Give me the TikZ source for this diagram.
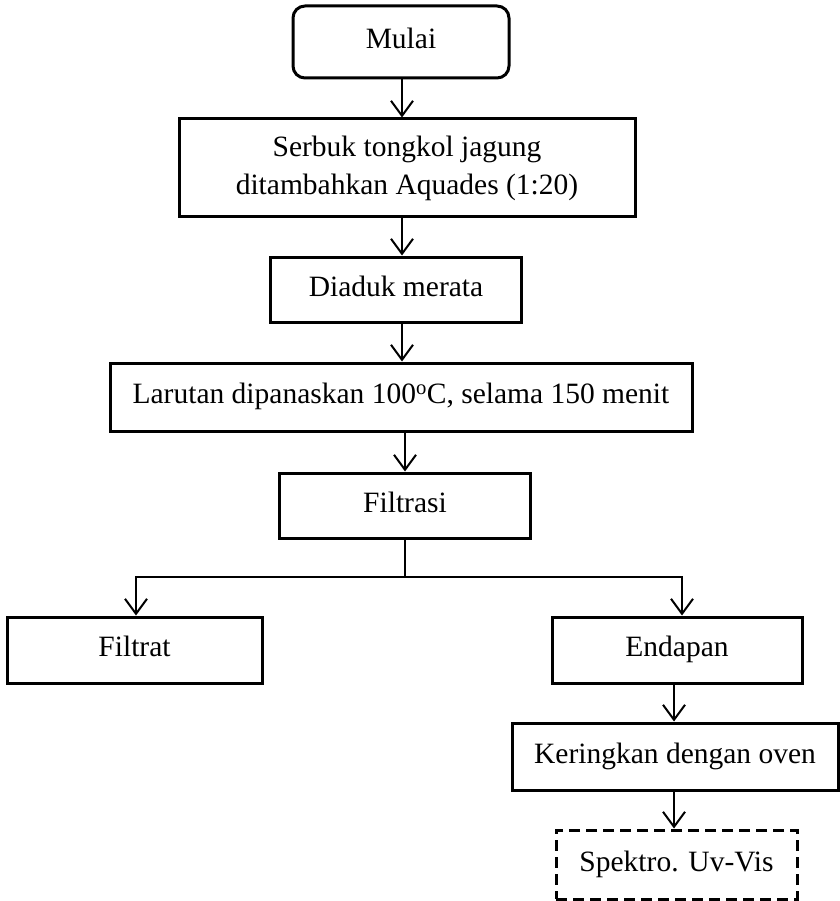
\documentclass[tikz,border=0pt]{standalone}
\usepackage{fontspec}
\setmainfont{Liberation Serif}
\usetikzlibrary{arrows.meta}
\begin{document}
\begin{tikzpicture}[x=1pt,y=-1pt,
  box/.style={draw, line width=3pt, inner sep=0pt, align=center, font=\fontsize{29.5}{38}\selectfont},
  one/.style={text height=20pt, text depth=6.5pt},
  rbox/.style={box, one, rounded corners=12pt},
  dbox/.style={box, one, dash pattern=on 11pt off 6pt},
  conn/.style={line width=2pt},
  arr/.style={conn, -{Straight Barb[length=15pt,width=22pt,line width=2pt]}}]
\useasboundingbox (0,0) rectangle (839,901);
\node[rbox, minimum width=216pt, minimum height=72pt] (mulai) at (401,42) {Mulai};
\node[box, minimum width=456pt, minimum height=98pt] (serbuk) at (407,168) {Serbuk tongkol jagung\\ditambahkan Aquades (1:20)};
\node[box, one, minimum width=251pt, minimum height=65pt] (aduk) at (396,289.5) {Diaduk merata};
\node[box, one, minimum width=582pt, minimum height=68pt] (panas) at (401,397) {Larutan dipanaskan 100\textsuperscript{o}C, selama 150 menit};
\node[box, one, minimum width=251pt, minimum height=65pt] (filtrasi) at (405,505.5) {Filtrasi};
\node[box, one, minimum width=255pt, minimum height=66pt] (filtrat) at (134.5,650) {Filtrat};
\node[box, one, minimum width=250pt, minimum height=66pt] (endapan) at (677,650) {Endapan};
\node[box, one, minimum width=326pt, minimum height=67pt] (kering) at (675,756.5) {Keringkan dengan oven};
\node[dbox, minimum width=241pt, minimum height=69pt] (spektro) at (676.5,864.5) {Spektro. Uv-Vis};
\coordinate (cx) at (402,0);
\draw[arr] (mulai.south -| cx) -- (serbuk.north -| cx);
\draw[arr] (serbuk.south -| cx) -- (aduk.north -| cx);
\draw[arr] (aduk.south -| cx) -- (panas.north -| cx);
\draw[arr] (panas.south -| filtrasi) -- (filtrasi.north);
\coordinate (brk) at (405,577);
\coordinate (lx) at (136,0);
\coordinate (rx) at (682,0);
\draw[conn] (filtrasi.south) -- (brk);
\draw[arr] (brk) -- (brk -| lx) -- (filtrat.north -| lx);
\draw[arr] (brk) -- (brk -| rx) -- (endapan.north -| rx);
\coordinate (ex) at (674,0);
\draw[arr] (endapan.south -| ex) -- (kering.north -| ex);
\draw[arr] (kering.south -| ex) -- (spektro.north -| ex);
\end{tikzpicture}
\end{document}
